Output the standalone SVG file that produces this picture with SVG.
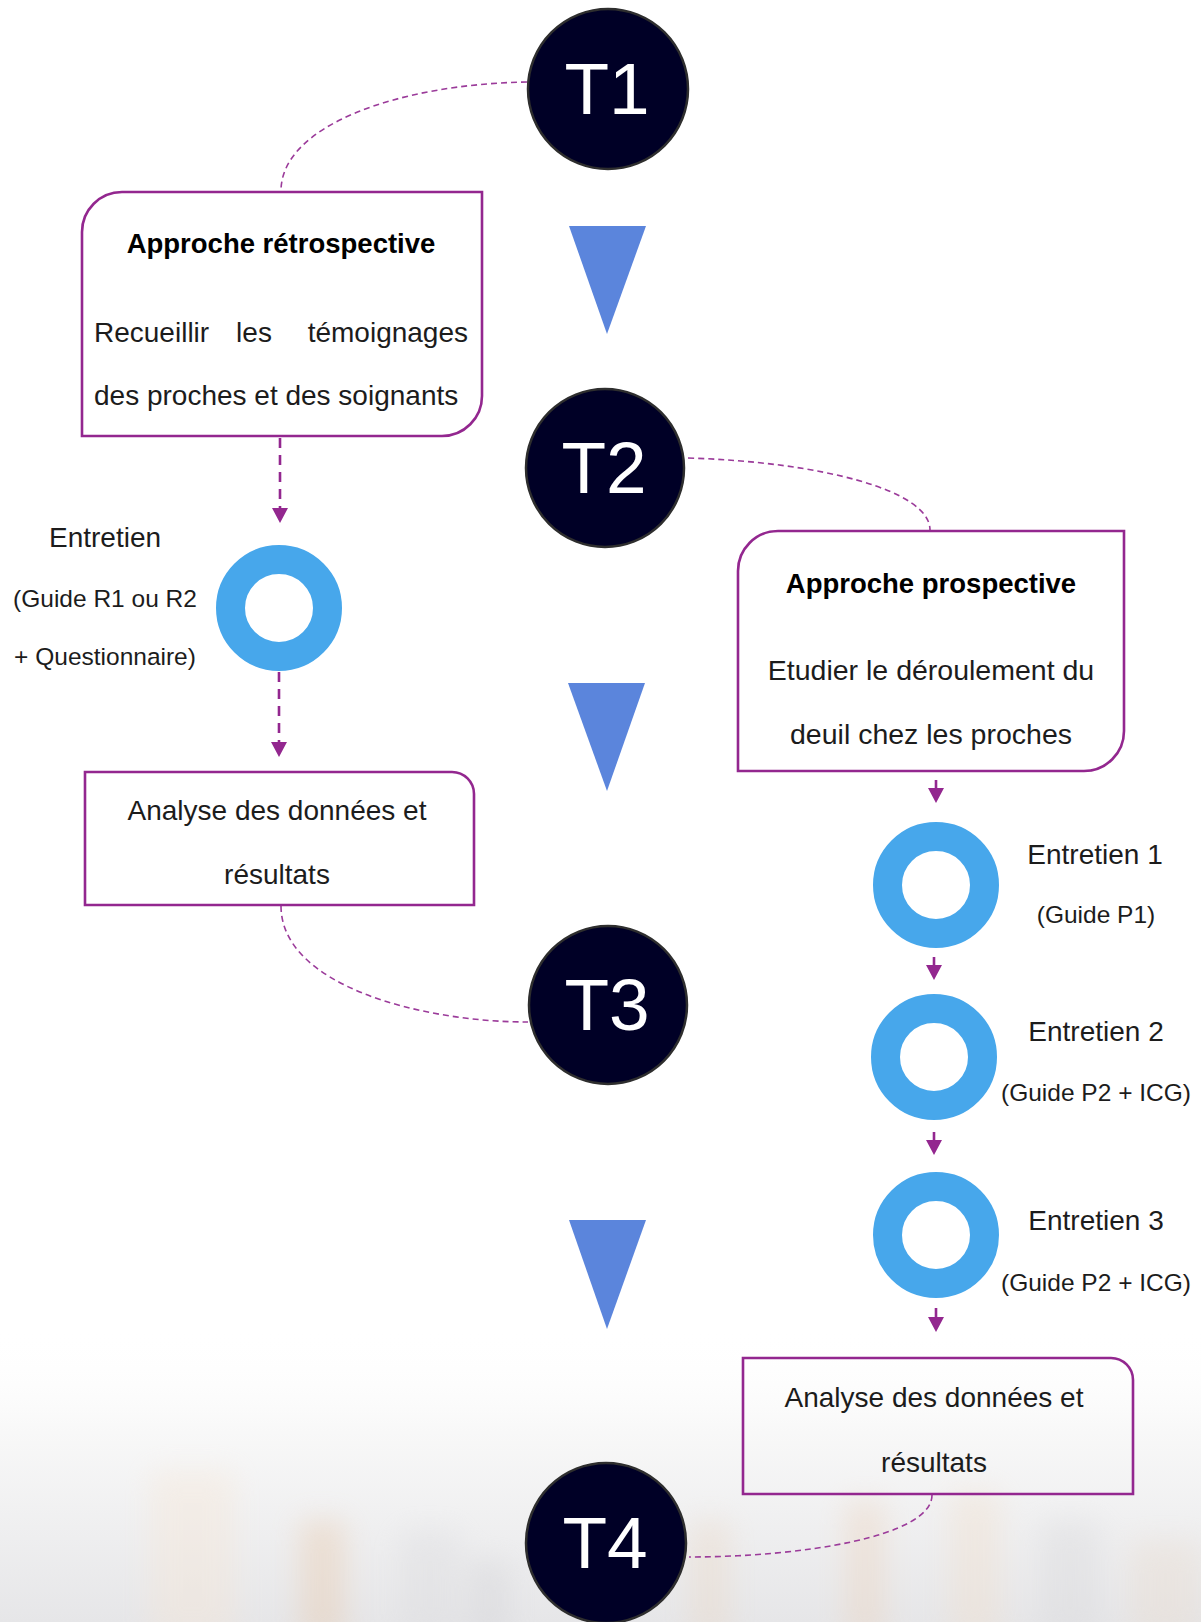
<svg xmlns="http://www.w3.org/2000/svg" width="1201" height="1622" viewBox="0 0 1201 1622">
  <defs>
    <style>
      .t { font-family: "Liberation Sans", Arial, sans-serif; fill: #1c1c1c; }
      .title { font-family: "Liberation Sans", Arial, sans-serif; font-weight: bold; fill: #000; font-size: 27.5px; text-anchor: middle; }
      .body { font-size: 28px; }
      .small { font-size: 24.5px; }
      .tlabel { font-family: "Liberation Sans", Arial, sans-serif; fill: #fff; font-size: 73px; text-anchor: middle; }
      .tnode { fill: #000026; stroke: #2e2e2e; stroke-width: 2.5; }
      .box { fill: #fff; stroke: #93278F; stroke-width: 2.6; }
      .boxclear { fill: none; stroke: #93278F; stroke-width: 2.6; }
      .ring { fill: none; stroke: #47A7EB; stroke-width: 29; }
      .tri { fill: #5B85DC; }
      .curve { fill: none; stroke: #9B3B9A; stroke-width: 1.6; stroke-dasharray: 6 4; }
      .darrow { fill: none; stroke: #93278F; stroke-width: 2.6; stroke-dasharray: 10 7; }
      .sarrow { fill: none; stroke: #93278F; stroke-width: 2.6; }
    </style>
    <marker id="ah" markerUnits="userSpaceOnUse" markerWidth="16" markerHeight="16" refX="0" refY="8" orient="auto">
      <path d="M0,0 L15,8 L0,16 Z" fill="#93278F"/>
    </marker>
    <linearGradient id="bg" x1="0" y1="0" x2="0" y2="1">
      <stop offset="0" stop-color="#ffffff" stop-opacity="0"/>
      <stop offset="0.35" stop-color="#f8f8f8"/>
      <stop offset="1" stop-color="#e6e6e8"/>
    </linearGradient>
    <filter id="blur" x="-50%" y="-50%" width="200%" height="200%">
      <feGaussianBlur stdDeviation="14"/>
    </filter>
  </defs>

  <rect x="0" y="0" width="1201" height="1622" fill="#ffffff"/>
  <g id="background">
    <rect x="0" y="1330" width="1201" height="292" fill="url(#bg)"/>
    <g filter="url(#blur)" opacity="0.38">
      <rect x="150" y="1470" width="85" height="170" fill="#f6e6d6"/>
      <rect x="300" y="1520" width="45" height="120" fill="#e8c7a8"/>
      <rect x="400" y="1530" width="60" height="110" fill="#dcdcdf"/>
      <rect x="470" y="1560" width="40" height="80" fill="#d2d2d6"/>
      <rect x="690" y="1520" width="40" height="120" fill="#ead7c4"/>
      <rect x="845" y="1500" width="40" height="140" fill="#ecd2bb"/>
      <rect x="950" y="1490" width="50" height="150" fill="#f1dfcc"/>
      <rect x="1040" y="1520" width="60" height="120" fill="#d9d9dc"/>
      <rect x="1130" y="1540" width="71" height="100" fill="#e9dccf"/>
    </g>
  </g>

  <g id="connectors">
    <path class="curve" d="M527,82 C400,84 281,125 281,191"/>
    <path class="curve" d="M688,458 C820,462 930,490 930,530"/>
    <path class="curve" d="M281,906 C281,985 420,1022 528,1022"/>
    <path class="curve" d="M932,1495 C932,1537 800,1557 689,1557"/>
    <path class="darrow" d="M280,438 V508" marker-end="url(#ah)"/>
    <path class="darrow" d="M279,672 V742" marker-end="url(#ah)"/>
    <path class="sarrow" d="M936,780 V788" marker-end="url(#ah)"/>
    <path class="sarrow" d="M934,957 V965" marker-end="url(#ah)"/>
    <path class="sarrow" d="M934,1132 V1140" marker-end="url(#ah)"/>
    <path class="sarrow" d="M936,1308 V1317" marker-end="url(#ah)"/>
  </g>

  <g id="arrows-timeline">
    <polygon class="tri" points="569,226 646,226 607,334"/>
    <polygon class="tri" points="568,683 645,683 607,791"/>
    <polygon class="tri" points="569,1220 646,1220 607,1329"/>
  </g>

  <g id="T1">
    <circle class="tnode" cx="608" cy="89" r="80"/>
    <text class="tlabel" x="607" y="114">T1</text>
  </g>
  <g id="T2">
    <circle class="tnode" cx="605" cy="468" r="79"/>
    <text class="tlabel" x="604" y="493">T2</text>
  </g>
  <g id="T3">
    <circle class="tnode" cx="608" cy="1005" r="79"/>
    <text class="tlabel" x="607" y="1030">T3</text>
  </g>
  <g id="T4">
    <circle class="tnode" cx="606" cy="1543" r="80"/>
    <text class="tlabel" x="605" y="1568">T4</text>
  </g>

  <g id="approche-retrospective">
    <path class="box" d="M122,192 H482 V396 A40,40 0 0 1 442,436 H82 V232 A40,40 0 0 1 122,192 Z"/>
    <text class="title" x="281" y="253">Approche rétrospective</text>
    <text class="t body" x="94" y="342">Recueillir</text>
    <text class="t body" x="254" y="342" text-anchor="middle">les</text>
    <text class="t body" x="468" y="342" text-anchor="end">témoignages</text>
    <text class="t body" x="94" y="405">des proches et des soignants</text>
  </g>

  <g id="entretien-retro">
    <circle class="ring" cx="279" cy="608" r="48.5"/>
    <text class="t body" x="105" y="547" text-anchor="middle">Entretien</text>
    <text class="t small" x="105" y="607" text-anchor="middle">(Guide R1 ou R2</text>
    <text class="t small" x="105" y="665" text-anchor="middle">+ Questionnaire)</text>
  </g>

  <g id="analyse-retro">
    <path class="box" d="M85,772 H452 A22,22 0 0 1 474,794 V905 H85 Z"/>
    <text class="t body" x="277" y="820" text-anchor="middle">Analyse des données et</text>
    <text class="t body" x="277" y="884" text-anchor="middle">résultats</text>
  </g>

  <g id="approche-prospective">
    <path class="box" d="M778,531 H1124 V731 A40,40 0 0 1 1084,771 H738 V571 A40,40 0 0 1 778,531 Z"/>
    <text class="title" x="931" y="593">Approche prospective</text>
    <text class="t" font-size="28.5" x="931" y="680" text-anchor="middle">Etudier le déroulement du</text>
    <text class="t" font-size="28.5" x="931" y="744" text-anchor="middle">deuil chez les proches</text>
  </g>

  <g id="entretien-1">
    <circle class="ring" cx="936" cy="885" r="48.5"/>
    <text class="t body" x="1095" y="864" text-anchor="middle">Entretien 1</text>
    <text class="t small" x="1096" y="923" text-anchor="middle">(Guide P1)</text>
  </g>
  <g id="entretien-2">
    <circle class="ring" cx="934" cy="1057" r="48.5"/>
    <text class="t body" x="1096" y="1041" text-anchor="middle">Entretien 2</text>
    <text class="t small" x="1096" y="1101" text-anchor="middle">(Guide P2 + ICG)</text>
  </g>
  <g id="entretien-3">
    <circle class="ring" cx="936" cy="1235" r="48.5"/>
    <text class="t body" x="1096" y="1230" text-anchor="middle">Entretien 3</text>
    <text class="t small" x="1096" y="1291" text-anchor="middle">(Guide P2 + ICG)</text>
  </g>

  <g id="analyse-prosp">
    <path class="boxclear" d="M743,1358 H1111 A22,22 0 0 1 1133,1380 V1494 H743 Z"/>
    <text class="t body" x="934" y="1407" text-anchor="middle">Analyse des données et</text>
    <text class="t body" x="934" y="1472" text-anchor="middle">résultats</text>
  </g>
</svg>
